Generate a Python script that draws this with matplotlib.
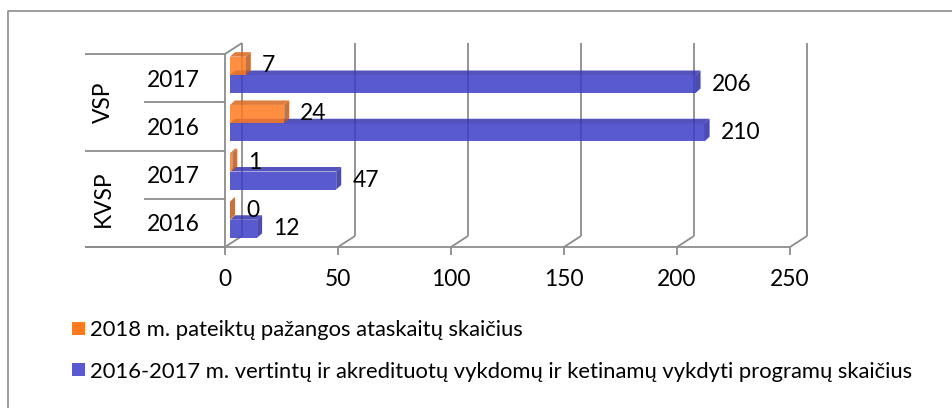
import matplotlib
matplotlib.use("Agg")
import matplotlib.pyplot as plt
from matplotlib.patches import Polygon, Rectangle
from matplotlib.lines import Line2D

# ---------------- data ----------------
groups = ["KVSP", "VSP"]
years = ["2016", "2017"]
# rows from bottom to top: KVSP 2016, KVSP 2017, VSP 2016, VSP 2017
series_reports_label = "2018 m. pateiktų pažangos ataskaitų skaičius"
series_programs_label = "2016-2017 m. vertintų ir akredituotų vykdomų ir ketinamų vykdyti programų skaičius"
reports_2018 = [0, 1, 24, 7]
programs_2016_2017 = [12, 47, 210, 206]
x_ticks = [0, 50, 100, 150, 200, 250]

# ---------------- style ----------------
W, H, DPI = 953, 408, 100
FONT = "Lato"
GRID = "#8c8c8c"
ORANGE = dict(front="#ff7a1e", top="#d9661c", side="#b85a20")
BLUE = dict(front="#3d3dc7", top="#3535b0", side="#2c2c9a")
ALPHA = 0.85

fig = plt.figure(figsize=(W / DPI, H / DPI), dpi=DPI)
renderer = fig.canvas.get_renderer()


def fit_size(s, target_px):
    t = fig.text(0, 0, s, fontsize=10, family=FONT)
    w = t.get_window_extent(renderer).width
    t.remove()
    return 10 * target_px / w


FS_MAIN = fit_size("2017", 53)
FS_LEG = fit_size(series_programs_label, 825)

# front plane of the plot area in pixels
left_px, right_px, top_px, bot_px = 225, 790, 54, 247
ax = fig.add_axes([left_px / W, 1 - bot_px / H, (right_px - left_px) / W, (bot_px - top_px) / H])
ax.set_xlim(0, 250)
nrows = len(reports_2018)
ax.set_ylim(0, nrows)
ax.set_facecolor("none")
for s in ax.spines.values():
    s.set_visible(False)
ax.set_yticks([])

ux = 250 / (right_px - left_px)       # data units per pixel (x)
uy = nrows / (bot_px - top_px)        # data units per pixel (y)

BX, BY = 17, 11        # back-wall offset (px)
SX = 5                 # bar shift from front plane (px)
DX, DY = 5, 4.5        # bar depth (px)

lw = 1.3
kw = dict(color=GRID, lw=lw, clip_on=False, solid_capstyle="butt")

# back wall vertical gridlines + floor diagonals
for v in x_ticks:
    ax.plot([v + BX * ux, v + BX * ux], [BY * uy, nrows + BY * uy], **kw, zorder=1)
    ax.plot([v, v + BX * ux], [0, BY * uy], **kw, zorder=1)
# left wall (front edge + top diagonal)
ax.plot([0, 0], [0, nrows], **kw, zorder=1)
ax.plot([0, BX * ux], [nrows, nrows + BY * uy], **kw, zorder=1)
# front bottom axis line
ax.plot([-140 * ux, 250], [0, 0], **kw, zorder=1)
# category separators
for r in range(nrows + 1):
    start = -140 if r % 2 == 0 else -81
    ax.plot([start * ux, 0], [r, r], **kw, zorder=1)

# x ticks
ax.set_xticks(x_ticks)
ax.set_xticklabels([str(v) for v in x_ticks], fontsize=FS_MAIN, family=FONT)
ax.tick_params(axis="x", direction="out", length=8 * 72 / DPI, width=lw, color=GRID,
               pad=24 * 72 / DPI)
for t in ax.get_xticklabels():
    t.set_va("center")


def bar3d(row, value, center_off, height, col):
    x0 = SX * ux
    x1 = value + SX * ux
    yb = row + center_off - height / 2
    yt = row + center_off + height / 2
    dx, dy = DX * ux, DY * uy
    front = Polygon([(x0, yb), (x1, yb), (x1, yt), (x0, yt)], closed=True)
    top = Polygon([(x0, yt), (x1, yt), (x1 + dx, yt + dy), (x0 + dx, yt + dy)], closed=True)
    side = Polygon([(x1, yb), (x1 + dx, yb + dy), (x1 + dx, yt + dy), (x1, yt)], closed=True)
    for p, c in ((top, col["top"]), (side, col["side"]), (front, col["front"])):
        p.set_facecolor(c)
        p.set_edgecolor("none")
        p.set_alpha(ALPHA)
        p.set_clip_on(False)
        p.set_zorder(3)
        ax.add_patch(p)
    ax.annotate(str(value), xy=(x1 + dx, row + center_off), xytext=(11 * 72 / DPI, 0),
                textcoords="offset points", ha="left", va="center",
                fontsize=FS_MAIN, family=FONT, color="black", zorder=5,
                annotation_clip=False)


BAR_H = 18 * uy
for r in range(nrows):
    bar3d(r, programs_2016_2017[r], 0.378, BAR_H, BLUE)
    bar3d(r, reports_2018[r], 0.758, BAR_H, ORANGE)

# category labels
for gi, g in enumerate(groups):
    for yi, y in enumerate(years):
        r = gi * len(years) + yi
        ax.text(-52 * ux, r + 0.5, y, ha="center", va="center_baseline",
                fontsize=FS_MAIN, family=FONT, clip_on=False)
    ax.text(-122 * ux, gi * len(years) + len(years) / 2, g, ha="center", va="center",
            rotation=90, fontsize=FS_MAIN, family=FONT, clip_on=False)

# legend (manual)
for lab, col, yc in ((series_reports_label, ORANGE["front"], 328.5),
                     (series_programs_label, "#5a5acf", 369.5)):
    fig.patches.append(Rectangle((72 / W, 1 - (yc + 6.5) / H), 13 / W, 13 / H,
                                 transform=fig.transFigure, facecolor=col,
                                 edgecolor="none"))
    fig.text(90 / W, 1 - yc / H, lab, ha="left", va="center_baseline",
             fontsize=FS_LEG, family=FONT, color="black")

# outer chart border (left + top visible)
fig.lines.append(Line2D([8 / W, 8 / W, 1.0], [0, 1 - 11 / H, 1 - 11 / H],
                        transform=fig.transFigure, color=GRID, lw=1.2))

fig.savefig("out.png", dpi=DPI)
